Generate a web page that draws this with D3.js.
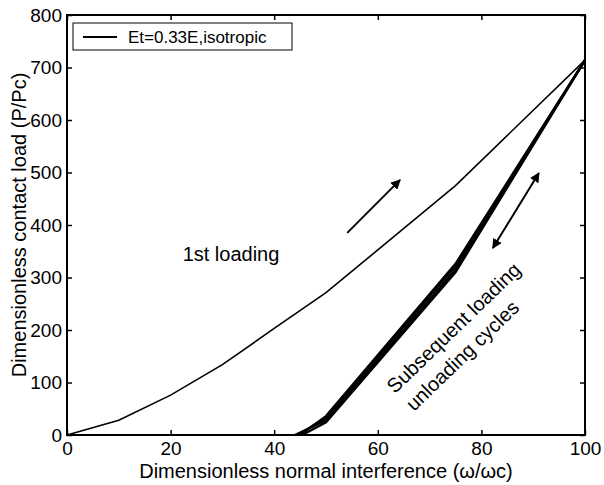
<!DOCTYPE html>
<html>
<head>
<meta charset="utf-8">
<script src="https://cdn.jsdelivr.net/npm/d3@7"></script>
<style>
  body { margin: 0; background: #fff; }
  svg text { font-family: "Liberation Sans", Arial, sans-serif; fill: #000; }
</style>
</head>
<body>
<div id="container"></div>
<script>
let w = 604;
let h = 485;
let margin = {left: 67, right: 19, top: 15, bottom: 50};

// DATA
let xTicks = [0, 20, 40, 60, 80, 100];
let yTicks = [0, 100, 200, 300, 400, 500, 600, 700, 800];

// first loading curve
let loadX = [0, 10, 20, 30, 40, 50, 75, 100];
let loadY = [0, 28, 76, 134, 203, 271, 475, 714];

// subsequent loading / unloading cycles
let cycleX = [[44, 50, 75, 100], [44.6, 50, 75, 100], [45.4, 50, 75, 100], [45, 50, 75, 100]];
let cycleY = [[0, 28, 315, 714], [0, 33, 322, 714], [0, 24, 310, 714], [0, 36, 326, 714]];

let legendLabel = "Et=0.33E,isotropic";

// annotation arrows, in data units
let arrowUp = [[54.1, 385], [64.3, 486]];
let arrowBoth = [[82.2, 356], [91.1, 499]];

let viz = d3.select("#container").append("svg")
    .attr("width", w)
    .attr("height", h)
    .style("background-color", "#ffffff");

let x = d3.scaleLinear().domain([0, 100]).range([margin.left, w - margin.right]);
let y = d3.scaleLinear().domain([0, 800]).range([h - margin.bottom, margin.top]);

let defs = viz.append("defs");
defs.append("marker")
    .attr("id", "head")
    .attr("viewBox", "0 0 10 10")
    .attr("refX", 9).attr("refY", 5)
    .attr("markerWidth", 5).attr("markerHeight", 5)
    .attr("markerUnits", "strokeWidth")
    .attr("orient", "auto-start-reverse")
  .append("path")
    .attr("d", "M0,0 L10,5 L0,10 Z")
    .attr("fill", "#000");

// axes with inward ticks on all sides
let tickLen = 5;
viz.append("g")
    .attr("transform", `translate(0,${y(0)})`)
    .call(d3.axisBottom(x).tickValues(xTicks).tickSizeInner(-tickLen).tickSizeOuter(0).tickPadding(7))
    .call(g => g.select(".domain").remove())
    .call(g => g.selectAll("text").attr("font-size", 19));
viz.append("g")
    .attr("transform", `translate(0,${y(800)})`)
    .call(d3.axisTop(x).tickValues(xTicks).tickSizeInner(-tickLen).tickSizeOuter(0).tickFormat(""))
    .call(g => g.select(".domain").remove());
viz.append("g")
    .attr("transform", `translate(${x(0)},0)`)
    .call(d3.axisLeft(y).tickValues(yTicks).tickSizeInner(-tickLen).tickSizeOuter(0).tickPadding(5))
    .call(g => g.select(".domain").remove())
    .call(g => g.selectAll("text").attr("font-size", 19));
viz.append("g")
    .attr("transform", `translate(${x(100)},0)`)
    .call(d3.axisRight(y).tickValues(yTicks).tickSizeInner(-tickLen).tickSizeOuter(0).tickFormat(""))
    .call(g => g.select(".domain").remove());
viz.selectAll(".tick line").attr("stroke", "#000").attr("stroke-width", 1.5);

let line = d3.line().x(d => x(d[0])).y(d => y(d[1]));

// curves
viz.append("path")
    .datum(loadX.map((v, i) => [v, loadY[i]]))
    .attr("d", line)
    .attr("fill", "none")
    .attr("stroke", "#000")
    .attr("stroke-width", 1.6);

cycleX.forEach((cx, k) => {
  viz.append("path")
      .datum(cx.map((v, i) => [v, cycleY[k][i]]))
      .attr("d", line)
      .attr("fill", "none")
      .attr("stroke", "#000")
      .attr("stroke-width", 2.4);
});

// frame
viz.append("rect")
    .attr("x", x(0)).attr("y", y(800))
    .attr("width", x(100) - x(0)).attr("height", y(0) - y(800))
    .attr("fill", "none")
    .attr("stroke", "#000")
    .attr("stroke-width", 2);

// arrows
viz.append("line")
    .attr("x1", x(arrowUp[0][0])).attr("y1", y(arrowUp[0][1]))
    .attr("x2", x(arrowUp[1][0])).attr("y2", y(arrowUp[1][1]))
    .attr("stroke", "#000").attr("stroke-width", 2)
    .attr("marker-end", "url(#head)");
viz.append("line")
    .attr("x1", x(arrowBoth[0][0])).attr("y1", y(arrowBoth[0][1]))
    .attr("x2", x(arrowBoth[1][0])).attr("y2", y(arrowBoth[1][1]))
    .attr("stroke", "#000").attr("stroke-width", 2)
    .attr("marker-start", "url(#head)")
    .attr("marker-end", "url(#head)");

// annotations
viz.append("text")
    .attr("x", 231).attr("y", 261)
    .attr("text-anchor", "middle")
    .attr("font-size", 20)
    .text("1st loading");

let rot = viz.append("g").attr("transform", "translate(459,342) rotate(-44)");
rot.append("text")
    .attr("x", 6).attr("y", -7)
    .attr("text-anchor", "middle")
    .attr("font-size", 20)
    .text("Subsequent loading");
rot.append("text")
    .attr("x", -7).attr("y", 19)
    .attr("text-anchor", "middle")
    .attr("font-size", 20)
    .text("unloading cycles");

// legend
viz.append("rect")
    .attr("x", 73).attr("y", 23)
    .attr("width", 219).attr("height", 27)
    .attr("fill", "#fff")
    .attr("stroke", "#000")
    .attr("stroke-width", 1);
viz.append("line")
    .attr("x1", 83).attr("x2", 117)
    .attr("y1", 37).attr("y2", 37)
    .attr("stroke", "#000").attr("stroke-width", 2);
viz.append("text")
    .attr("x", 128).attr("y", 43)
    .attr("font-size", 17)
    .text(legendLabel);

// axis titles
viz.append("text")
    .attr("x", (x(0) + x(100)) / 2).attr("y", 478)
    .attr("text-anchor", "middle")
    .attr("font-size", 20)
    .text("Dimensionless normal interference (ω/ωc)");
viz.append("text")
    .attr("transform", `translate(26,${(y(0) + y(800)) / 2}) rotate(-90)`)
    .attr("text-anchor", "middle")
    .attr("font-size", 20)
    .text("Dimensionless contact load (P/Pc)");
</script>
</body>
</html>
